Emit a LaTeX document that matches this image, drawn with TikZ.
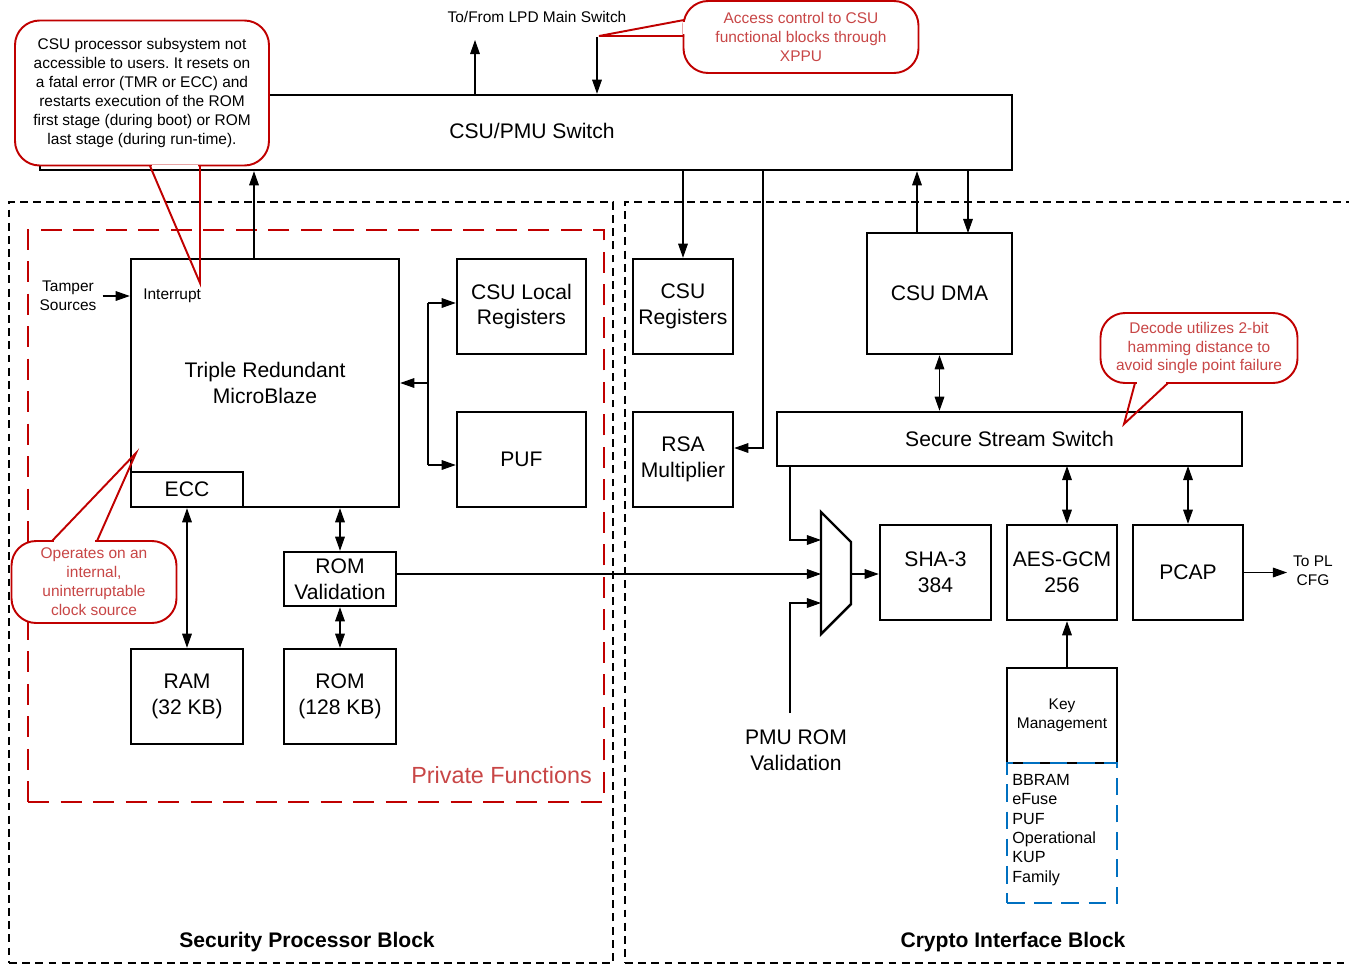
\documentclass[tikz,border=0pt]{standalone}
\usepackage{fontspec}
\setmainfont{Liberation Sans}
\usetikzlibrary{arrows.meta,positioning}
\frenchspacing

\definecolor{callred}{RGB}{192,0,0}
\definecolor{notered}{RGB}{200,70,70}
\definecolor{keyblue}{RGB}{0,112,192}

\begin{document}
\begin{tikzpicture}[x=0.02cm,y=-0.02cm,>={Triangle[length=8pt,width=5.5pt]},
    wh/.style 2 args={minimum width=#1*0.02cm,minimum height=#2*0.02cm},
    blk/.style={draw,line width=1.4pt,inner sep=0pt,align=center,
      font=\fontsize{12}{14.7}\selectfont},
    small/.style={align=center,font=\fontsize{8.8}{10.8}\selectfont},
    wire/.style={line width=0.6pt},
    region/.style={draw,dash pattern=on 4.5pt off 3pt,line width=0.6pt,inner sep=0pt},
    note/.style={draw=callred,line width=1.1pt,rounded corners=14pt,fill=white,
      align=center,text=notered,inner sep=0pt,font=\fontsize{8.8}{10.8}\selectfont},
    tip/.style={draw=callred,line width=1.1pt},
    gap/.style={draw=white,line width=1.7pt},
    blocktitle/.style={font=\bfseries\fontsize{12}{14}\selectfont}]

  \useasboundingbox (0,0) rectangle (1349,964);

  % Regions
  \node[region,wh={604}{761}] (secblk) at (311,582.5) {};
  \node[region,wh={735}{761}] (cryblk) at (992.5,582.5) {};
  \node[blocktitle] (seclbl) at (307,942) {Security Processor Block};
  \node[blocktitle] (crylbl) at (1013,942) {Crypto Interface Block};
  \node[draw=callred,dash pattern=on 12pt off 6.5pt,line width=1.4pt,inner sep=0pt,
    wh={576}{572}] (private) at (316,516) {};
  \node[text=notered,font=\fontsize{13.3}{16}\selectfont,anchor=east] (privlbl) at (598,775) {Private Functions};

  % Switch
  \node[blk,wh={972}{75}] (switch) at (526,132.5) {};
  \node[font=\fontsize{12}{14.7}\selectfont] (swlbl) at (532,131) {CSU/PMU Switch};
  \node[small] (lpd) at (537,17) {To/From LPD Main Switch};

  % Security processor blocks
  \node[blk,wh={268}{248}] (mb) at (265,383) {Triple Redundant\\MicroBlaze};
  \node[blk,wh={112}{35}] (ecc) at (187,489.5) {ECC};
  \node[small,anchor=west,inner sep=0pt] (intr) at (143,296) {Interrupt};
  \node[small] (tamper) at (68,296) {Tamper\\Sources};
  \node[blk,wh={129}{95}] (csuloc) at (521.5,306.5) {CSU Local\\Registers};
  \node[blk,wh={129}{95}] (puf) at (521.5,459.5) {PUF};
  \node[blk,wh={112}{54}] (romval) at (340,579) {ROM\\Validation};
  \node[blk,wh={112}{95}] (ram) at (187,696.5) {RAM\\(32 KB)};
  \node[blk,wh={112}{95}] (rom) at (340,696.5) {ROM\\(128 KB)};

  % Crypto interface blocks
  \node[blk,wh={100}{95}] (csureg) at (683,306.5) {CSU\\Registers};
  \node[blk,wh={100}{95}] (rsa) at (683,459.5) {RSA\\Multiplier};
  \node[blk,wh={145}{121}] (dma) at (939.5,293.5) {CSU DMA};
  \node[blk,wh={465}{54}] (sss) at (1009.5,439) {Secure Stream Switch};
  \node[blk,wh={111}{95}] (sha) at (935.5,572.5) {SHA-3\\384};
  \node[blk,wh={110}{95}] (aes) at (1062,572.5) {AES-GCM\\256};
  \node[blk,wh={110}{95}] (pcap) at (1188,572.5) {PCAP};
  \node[blk,wh={110}{95},font=\fontsize{8.8}{11}\selectfont] (keymgmt) at (1062,715.5) {Key\\Management};
  \node[draw=keyblue,dash pattern=on 10pt off 5.5pt,line width=1.4pt,inner sep=0pt,
    wh={110}{140}] (keysrc) at (1062,833) {};
  \node[anchor=north west,align=left,inner sep=0pt,font=\fontsize{9.2}{11}\selectfont] (keylist)
    at (1012,774) {BBRAM\\eFuse\\PUF\\Operational\\KUP\\Family};
  \node[small] (topl) at (1313,571) {To PL\\CFG};
  \node[font=\fontsize{12}{14.7}\selectfont,align=center] (pmurom) at (796,750) {PMU ROM\\Validation};

  % Mux
  \coordinate (muxa) at (821,512);
  \coordinate (muxb) at (851,542);
  \coordinate (muxc) at (851,604);
  \coordinate (muxd) at (821,634);
  \draw[line width=1.4pt] (muxa) -- (muxb) -- (muxc) -- (muxd) -- cycle;
  \coordinate (muxin1) at (821,540);
  \coordinate (muxin2) at (821,574);
  \coordinate (muxin3) at (821,603);
  \coordinate (muxout) at (851,574);

  % Connection points
  \coordinate (mbup) at (254,259);
  \coordinate (lpdup) at (475,40);
  \coordinate (lpddn) at (597,37);
  \coordinate (rsabus) at (763,448);
  \coordinate (dmaup) at (917,233);
  \coordinate (dmadn) at (968,233);
  \coordinate (aesbus) at (1067,466);
  \coordinate (pcapbus) at (1188,466);
  \coordinate (kmup) at (1067,668);
  \coordinate (sssdn) at (790,466);
  \coordinate (pmuup) at (790,713);
  \coordinate (bus) at (428,383);
  \coordinate (bustop) at (428,303);
  \coordinate (busbot) at (428,465);

  % Connectors
  \draw[wire,->] (lpdup |- switch.north) -- (lpdup);
  \draw[wire,->] (lpddn) -- (lpddn |- switch.north);
  \draw[wire,->] (mbup) -- (mbup |- switch.south);
  \draw[wire,->] (tamper.east) -- (tamper.east -| mb.west);
  \draw[wire,->] (bus) -- (bus -| mb.east);
  \draw[wire] (bustop) -- (busbot);
  \draw[wire,->] (bustop) -- (bustop -| csuloc.west);
  \draw[wire,->] (busbot) -- (busbot -| puf.west);
  \draw[wire,<->] (ecc.south) -- (ram.north);
  \draw[wire,<->] (mb.south -| romval.north) -- (romval.north);
  \draw[wire,<->] (romval.south) -- (rom.north);
  \draw[wire,->] (romval.east |- muxin2) -- (muxin2);
  \draw[wire,->] (switch.south -| csureg.north) -- (csureg.north);
  \draw[wire,->] (switch.south -| rsabus) -- (rsabus) -- (rsabus -| rsa.east);
  \draw[wire,->] (dmaup) -- (dmaup |- switch.south);
  \draw[wire,->] (dmadn |- switch.south) -- (dmadn);
  \draw[wire,<->] (dma.south) -- (dma.south |- sss.north);
  \draw[wire,<->] (aesbus) -- (aesbus |- aes.north);
  \draw[wire,<->] (pcapbus) -- (pcapbus |- pcap.north);
  \draw[wire,->] (kmup) -- (kmup |- aes.south);
  \draw[wire,->] (sssdn) |- (muxin1);
  \draw[wire,->] (pmuup) |- (muxin3);
  \draw[wire,->] (muxout) -- (muxout -| sha.west);
  \draw[wire,->] (pcap.east) -- (pcap.east -| topl.west);

  % Callouts
  \node[note,text=black,wh={254}{145}] (cpunote) at (142,93)
    {CSU processor subsystem not\\accessible to users. It resets on\\a fatal error (TMR or ECC) and\\
     restarts execution of the ROM\\first stage (during boot) or ROM\\last stage (during run-time).};
  \coordinate (cpua) at (150,166);
  \coordinate (cpub) at (200,166);
  \coordinate (cputip) at (200,283);
  \draw[gap] (152,166) -- (198,166);
  \draw[tip] (cpua) -- (cputip) -- (cpub);

  \node[note,wh={235}{72}] (xppunote) at (801,37)
    {Access control to CSU\\functional blocks through\\XPPU};
  \coordinate (xppua) at (684,20);
  \coordinate (xppub) at (684,36);
  \coordinate (xpputip) at (599,36);
  \draw[gap] (684,22) -- (684,34);
  \draw[tip] (xppua) -- (xpputip) -- (xppub);

  \node[note,wh={197}{70}] (decnote) at (1199,348)
    {Decode utilizes 2-bit\\hamming distance to\\avoid single point failure};
  \coordinate (deca) at (1135,383);
  \coordinate (decb) at (1168,383);
  \coordinate (dectip) at (1124,424);
  \draw[gap] (1137,383) -- (1166,383);
  \draw[tip] (deca) -- (dectip) -- (decb);

  \node[note,wh={165}{82}] (clknote) at (94,582)
    {Operates on an\\internal,\\uninterruptable\\clock source};
  \coordinate (clka) at (52,541);
  \coordinate (clkb) at (97,541);
  \coordinate (clktip) at (136,453);
  \draw[gap] (54,541) -- (95,541);
  \draw[tip] (clka) -- (clktip) -- (clkb);

\end{tikzpicture}
\end{document}
